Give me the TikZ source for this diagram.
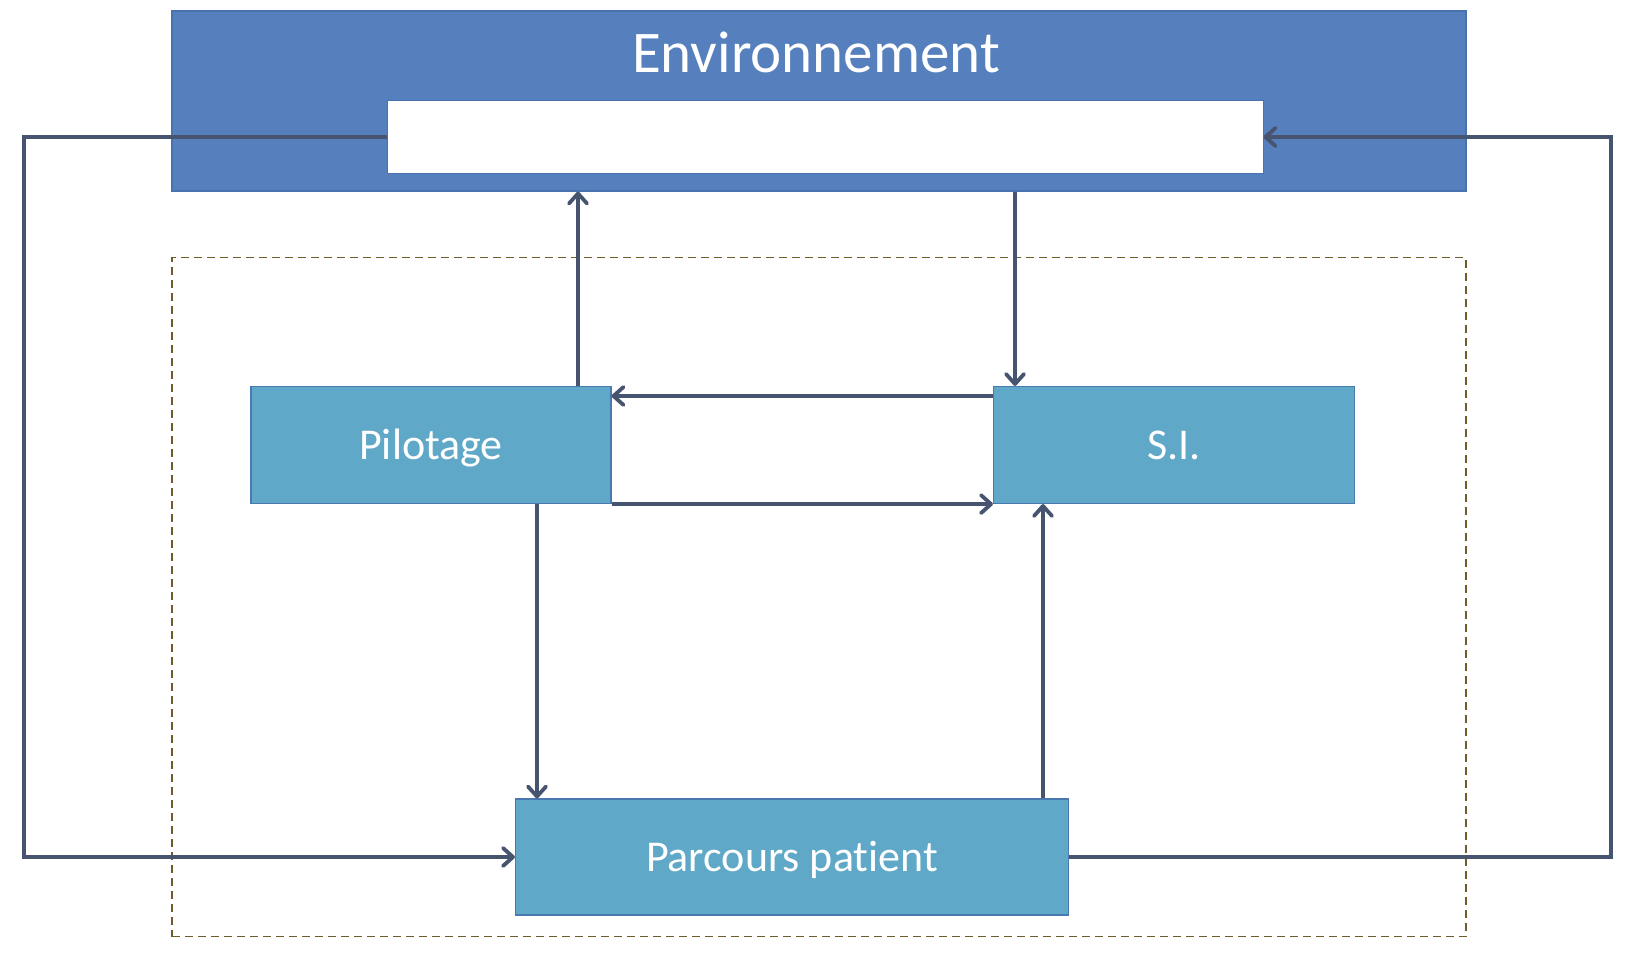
\documentclass[tikz,border=0pt]{standalone}
\usepackage{fontspec}
\setmainfont[Ligatures=NoCommon]{Carlito}
\usetikzlibrary{arrows.meta}
\definecolor{envblue}{HTML}{557FBD}
\definecolor{envedge}{HTML}{4A72AE}
\definecolor{boxteal}{HTML}{60A8C8}
\definecolor{boxedge}{HTML}{4A78B0}
\definecolor{arrcol}{HTML}{465470}
\definecolor{dashcol}{HTML}{6E5C2A}
\begin{document}
\begin{tikzpicture}[x=1pt,y=-1pt,
  procbox/.style={draw=boxedge,line width=1.2pt,fill=boxteal,text=white,inner sep=0pt,
    font=\fontsize{44}{50}\selectfont,text height=28pt,text depth=0pt},
  arr/.style={draw=arrcol,line width=3.8pt,-{Straight Barb[length=10pt,width=18pt,line width=3.8pt,round]}}]
\useasboundingbox (0,0) rectangle (1637,958);
\fill[white] (0,0) rectangle (1637,958);
% environment
\node[draw=envedge,line width=1.2pt,fill=envblue,minimum width=1294pt,minimum height=180pt,inner sep=0pt] (env) at (819,101) {};
\node[text=white,font=\fontsize{59}{66}\selectfont,inner sep=0pt,text height=38pt,text depth=0pt] (envtitle) at (816,54) {Environnement};
\node[draw=envedge,line width=1pt,fill=white,minimum width=876pt,minimum height=73pt,inner sep=0pt] (envin) at (825,137) {};
% system boundary
\node[draw=dashcol,line width=1.6pt,dash pattern=on 8pt off 5pt,minimum width=1294pt,minimum height=679pt,inner sep=0pt] (sys) at (819,597) {};
% process boxes
\node[procbox,minimum width=360pt,minimum height=117pt] (pil) at (431,445) {Pilotage};
\node[procbox,minimum width=361pt,minimum height=117pt] (si) at (1174,445) {S.I.};
\node[procbox,minimum width=553pt,minimum height=116pt] (par) at (792,857) {Parcours patient};
% helper coordinates
\coordinate (xa) at (578,0);
\coordinate (xb) at (1015,0);
\coordinate (xc) at (537,0);
\coordinate (xd) at (1043,0);
\coordinate (ya) at (0,396);
\coordinate (lx) at (24,0);
\coordinate (rx) at (1611,0);
% connectors
\draw[arr] (pil.north -| xa) -- (env.south -| xa);
\draw[arr] (env.south -| xb) -- (si.north -| xb);
\draw[arr] (si.west |- ya) -- (pil.east |- ya);
\draw[arr] (pil.south east) -- (si.south west);
\draw[arr] (pil.south -| xc) -- (par.north -| xc);
\draw[arr] (par.north -| xd) -- (si.south -| xd);
\draw[arr,line join=miter] (envin.west) -- (envin.west -| lx) -- (par.west -| lx) -- (par.west);
\draw[arr,line join=miter] (par.east) -- (par.east -| rx) -- (envin.east -| rx) -- (envin.east);
\end{tikzpicture}
\end{document}
